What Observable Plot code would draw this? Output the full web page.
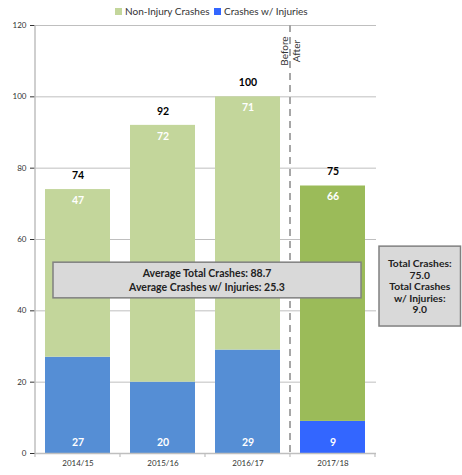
<!DOCTYPE html>
<html><head><meta charset="utf-8">
<script src="https://cdn.jsdelivr.net/npm/d3@7"></script>
<script src="https://cdn.jsdelivr.net/npm/@observablehq/plot@0.6"></script>
<style>
body{margin:0;background:#fff;font-family:Lato,"Open Sans",sans-serif;}
#legend{height:22px;width:462px;position:relative;font-size:10px;color:#333;}
#legend .item{position:absolute;top:5px;display:flex;align-items:center;white-space:nowrap;}
#legend .sw{width:7px;height:7px;margin-right:3px;display:inline-block;}
</style></head><body>
<div id="legend"></div>
<div id="chart"></div>
<script>
const categories = ["2014/15","2015/16","2016/17","2017/18"];
const nonInjury = [47,72,71,66];
const injury = [27,20,29,9];
const period = ["Before","Before","Before","After"];
const yTicks = [0,20,40,60,80,100,120];
const seriesNames = ["Non-Injury Crashes","Crashes w/ Injuries"];
const periodLabels = ["Before","After"];

const colorKeys = ["Before-non","Before-inj","After-non","After-inj"];
const colorRange = ["#c3d69b","#558ed5","#9bbb59","#3366ff"];

const rows = categories.flatMap((c,i)=>[
  {cat:c, seg:"inj", key:period[i]+"-inj", y1:0, y2:injury[i], v:injury[i]},
  {cat:c, seg:"non", key:period[i]+"-non", y1:injury[i], y2:injury[i]+nonInjury[i], v:nonInjury[i]}
]);
const totals = categories.map((c,i)=>({cat:c, total:injury[i]+nonInjury[i]}));
const beforeIdx = categories.map((c,i)=>i).filter(i=>period[i]==="Before");
const afterIdx = categories.map((c,i)=>i).filter(i=>period[i]==="After");
const avgTotal = d3.mean(beforeIdx, i=>injury[i]+nonInjury[i]);
const avgInj = d3.mean(beforeIdx, i=>injury[i]);
const aTotal = d3.sum(afterIdx, i=>injury[i]+nonInjury[i]);
const aInj = d3.sum(afterIdx, i=>injury[i]);

// legend
const leg = document.getElementById("legend");
[[seriesNames[0],"#c3d69b",115],[seriesNames[1],"#3366ff",214]].forEach(([n,c,l])=>{
  const it=document.createElement("div"); it.className="item"; it.style.left=l+"px";
  it.innerHTML=`<span class="sw" style="background:${c}"></span>${n}`; leg.appendChild(it);
});

const W=462,H=453,mL=35,mR=86,mT=3,mB=22;
const plot = Plot.plot({
  width:W, height:H, marginLeft:mL, marginRight:mR, marginTop:mT, marginBottom:mB,
  style:{fontFamily:"Lato, 'Open Sans', sans-serif", fontSize:"8px", color:"#333", background:"#fff", overflow:"visible"},
  x:{domain:categories, paddingInner:0.235, paddingOuter:0.118, label:null, tickSize:0, tickPadding:7},
  y:{domain:[0,120], ticks:yTicks, label:null, tickSize:5, tickPadding:4},
  color:{domain:colorKeys, range:colorRange},
  marks:[
    Plot.ruleY(yTicks.filter(t=>t>0),{stroke:"#bfbfbf", strokeWidth:1}),
    Plot.barY(rows,{x:"cat", y1:"y1", y2:"y2", fill:"key"}),
    Plot.ruleY([0],{stroke:"#bfbfbf", strokeWidth:1.5}),
    Plot.text(rows.filter(d=>d.seg==="inj"),{x:"cat", y:"y1", text:"v", dy:-11, fill:"white", fontWeight:"bold", fontSize:10.5}),
    Plot.text(rows.filter(d=>d.seg==="non"),{x:"cat", y:"y2", text:"v", dy:11, fill:"white", fontWeight:"bold", fontSize:10.5}),
    Plot.text(totals,{x:"cat", y:"total", text:"total", dy:-14, fill:"black", fontWeight:"bold", fontSize:10.5})
  ]
});
document.getElementById("chart").appendChild(plot);

const xs = plot.scale("x"), ys = plot.scale("y");
const x = v=>xs.apply(v), y = v=>ys.apply(v);
const bw = xs.bandwidth;
const step = x(categories[1]) - x(categories[0]);
const gap = (step - bw)/2;
const svg = d3.select(plot);
const g = svg.append("g");
const y0 = y(0), yTop = y(120);

// y axis line
g.append("line").attr("x1",mL).attr("x2",mL).attr("y1",yTop).attr("y2",y0).attr("stroke","#bfbfbf").attr("stroke-width",1.5);
// x boundary ticks
const bounds = categories.map(c=>x(c)-gap).concat([x(categories[categories.length-1])+bw+gap]);
bounds.forEach(b=>g.append("line").attr("x1",b).attr("x2",b).attr("y1",y0).attr("y2",y0+4).attr("stroke","#bfbfbf").attr("stroke-width",1.2));

// dashed before/after divider
const divX = x(categories[afterIdx[0]]) - gap;
g.append("line").attr("x1",divX).attr("x2",divX).attr("y1",yTop).attr("y2",y0)
  .attr("stroke","#a6a6a6").attr("stroke-width",2).attr("stroke-dasharray","7,5");
const yBA = y(112.7);
[[periodLabels[0],-6],[periodLabels[1],6]].forEach(([t,dx])=>{
  g.append("text").attr("transform",`translate(${divX+dx},${yBA}) rotate(-90)`)
   .attr("text-anchor","middle").attr("dominant-baseline","central")
   .attr("font-size",10).attr("fill","#333").text(t);
});

// average box
const bx1 = x(categories[0])+8, bx2 = x(categories[3])+bw-4;
const by1 = y(53.5), by2 = y(43.5);
g.append("rect").attr("x",bx1).attr("y",by1).attr("width",bx2-bx1).attr("height",by2-by1)
  .attr("fill","#d9d9d9").attr("stroke","#808080").attr("stroke-width",1.5);
const cx = (bx1+bx2)/2, cy=(by1+by2)/2;
[[`Average Total Crashes: ${avgTotal.toFixed(1)}`,-7],[`Average Crashes w/ Injuries: ${avgInj.toFixed(1)}`,7]].forEach(([t,d])=>{
  g.append("text").attr("x",cx).attr("y",cy+d).attr("text-anchor","middle").attr("dominant-baseline","central")
   .attr("font-size",10.5).attr("font-weight","bold").attr("fill","#222").text(t);
});

// after box
const rx1 = W-mR+3, rx2 = W-1.5;
const ry1 = y(58), ry2 = y(35.6);
g.append("rect").attr("x",rx1).attr("y",ry1).attr("width",rx2-rx1).attr("height",ry2-ry1)
  .attr("fill","#d9d9d9").attr("stroke","#808080").attr("stroke-width",1.5);
const rlines = ["Total Crashes:", aTotal.toFixed(1), "Total Crashes", "w/ Injuries:", aInj.toFixed(1)];
const rcx=(rx1+rx2)/2, rcy=(ry1+ry2)/2;
rlines.forEach((t,i)=>{
  g.append("text").attr("x",rcx).attr("y",rcy+(i-2)*11.5).attr("text-anchor","middle").attr("dominant-baseline","central")
   .attr("font-size",10.3).attr("font-weight","bold").attr("fill","#222").text(t);
});
</script>
</body></html>
